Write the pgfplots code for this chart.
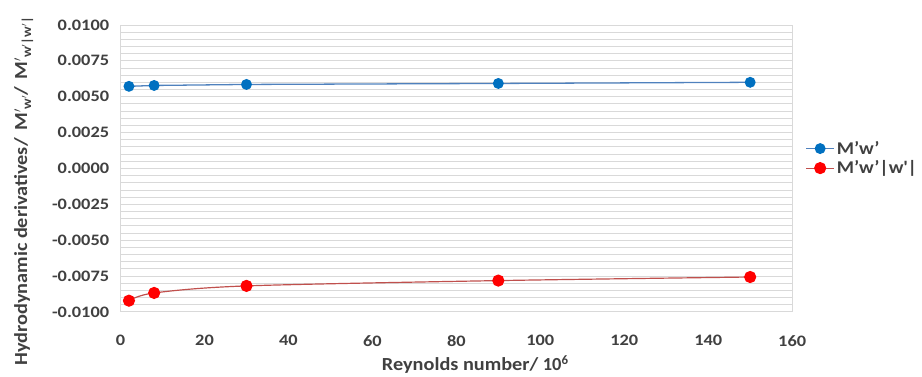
\documentclass[border=0pt]{standalone}
\usepackage{fontspec}
\setmainfont{Carlito}
\newfontfamily\tickfont[FakeStretch=1.15]{Carlito}
\newfontfamily\labfont[FakeStretch=1.1]{Carlito}
\usepackage{pgfplots}
\pgfplotsset{compat=1.18}
\definecolor{bluemark}{HTML}{0070C0}
\definecolor{blueline}{HTML}{4F81BD}
\definecolor{redmark}{HTML}{FF0000}
\definecolor{redline}{HTML}{C0504D}
\definecolor{gridgray}{HTML}{D9D9D9}
\definecolor{txt}{HTML}{404040}
\newcommand{\sub}[1]{\raisebox{-0.45ex}{\fontsize{13bp}{13bp}\selectfont #1}}
\begin{document}
\begin{tikzpicture}
\begin{axis}[
  scale only axis,
  width=674bp, height=288bp,
  xmin=0, xmax=160, ymin=-0.01, ymax=0.01,
  xtick={0,20,...,160},
  ytick={-0.01,-0.0075,-0.005,-0.0025,0,0.0025,0.005,0.0075,0.01},
  minor y tick num=4,
  ymajorgrids, yminorgrids,
  major grid style={gridgray, line width=0.8pt},
  minor grid style={gridgray, line width=0.8pt},
  major tick length=0pt, minor tick length=0pt,
  axis line style={gridgray, line width=0.8pt},
  scaled y ticks=false,
  /pgf/number format/assume math mode=true,
  yticklabel style={/pgf/number format/fixed, /pgf/number format/precision=4, /pgf/number format/fixed zerofill, xshift=-8bp},
  xticklabel style={yshift=-20bp},
  ticklabel style={font=\tickfont\fontsize{16bp}{19bp}\selectfont\bfseries, text=txt},
  xlabel={Reynolds number/ $\mathbf{10^6}$},
  ylabel={Hydrodynamic derivatives/\, M$'$\sub{w$'$}/\, M$'$\sub{w$'$|w$'$|}},
  label style={font=\labfont\fontsize{18.5bp}{22bp}\selectfont\bfseries, text=txt},
  xlabel style={yshift=-2bp, xshift=19bp},
  ylabel style={yshift=12bp, xshift=-23bp},
  legend style={at={(1.015,0.535)}, anchor=west, draw=none, fill=none,
    font=\labfont\fontsize{18bp}{21bp}\selectfont\bfseries, text=txt, row sep=1bp},
  legend cell align=left,
  legend image code/.code={\draw[mark repeat=2,mark phase=2] plot coordinates {(0cm,0cm) (0.5cm,0cm) (1cm,0cm)};},
]
\addplot[blueline, line width=1.3pt, mark=*, mark size=4.8bp, mark options={draw=bluemark, fill=bluemark}]
  coordinates {(2,0.00572) (8,0.00578) (30,0.00585) (90,0.00592) (150,0.00600)};
\addlegendentry{M’w’}
\addplot[redline, line width=1.2pt, smooth, mark=*, mark size=5.5bp, mark options={draw=redmark, fill=redmark}]
  coordinates {(2,-0.00922) (8,-0.00868) (30,-0.00819) (90,-0.00782) (150,-0.00757)};
\addlegendentry{M’w’|w\textquotesingle|}
\end{axis}
\path (current axis.south west) ++(-121bp,-63bp) rectangle ++(922bp,376bp);
\end{tikzpicture}
\end{document}
